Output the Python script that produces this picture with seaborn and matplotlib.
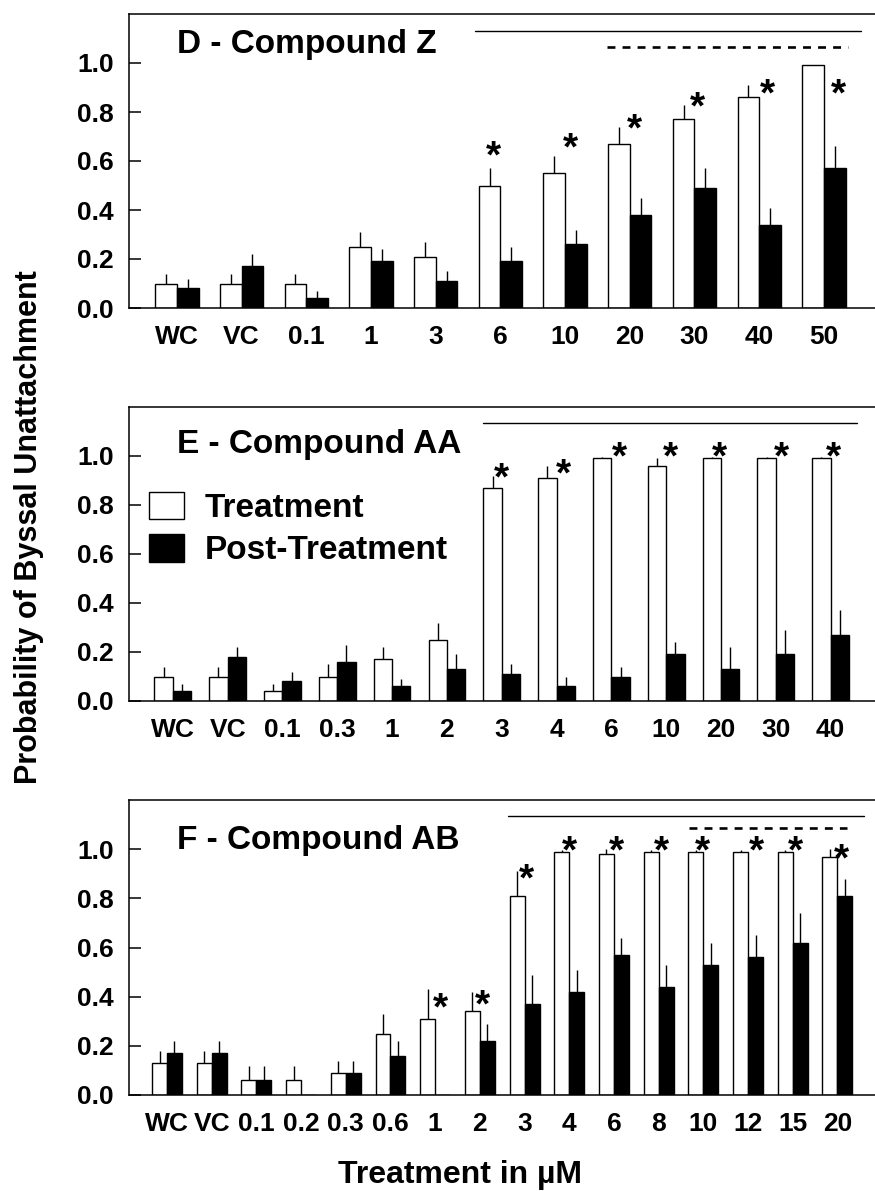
import numpy as np
import pandas as pd
import matplotlib
matplotlib.use("Agg")
import matplotlib.pyplot as plt
import matplotlib.patches as mpatches
import matplotlib.transforms as mtransforms
import seaborn as sns

sns.set_theme(style="ticks")
plt.rcParams["font.family"] = ["Liberation Sans", "DejaVu Sans"]
plt.rcParams["font.weight"] = "bold"
plt.rcParams.update({
    "text.color": "black", "axes.labelcolor": "black",
    "xtick.color": "black", "ytick.color": "black",
})

PHASES = ["Treatment", "Post-Treatment"]
PALETTE = {"Treatment": "white", "Post-Treatment": "black"}

# --- Panel D - Compound Z ---
cats_d = ["WC", "VC", "0.1", "1", "3", "6", "10", "20", "30", "40", "50"]
treat_d = [0.10, 0.10, 0.10, 0.25, 0.21, 0.50, 0.55, 0.67, 0.77, 0.86, 0.99]
treat_err_d = [0.04, 0.04, 0.04, 0.06, 0.06, 0.07, 0.07, 0.07, 0.06, 0.05, 0.0]
post_d = [0.08, 0.17, 0.04, 0.19, 0.11, 0.19, 0.26, 0.38, 0.49, 0.34, 0.57]
post_err_d = [0.04, 0.05, 0.03, 0.05, 0.04, 0.06, 0.06, 0.07, 0.08, 0.07, 0.09]
star_cats_d = ["6", "10", "20", "30", "40", "50"]
star_off_d = [-0.10, 0.08, 0.07, 0.04, 0.13, 0.22]
star_y_d = [0.667, 0.70, 0.776, 0.867, 0.918, 0.918]
lines_d = [("6", -0.40, "50", 0.57, 1.132, "solid"),
           ("20", -0.35, "50", 0.37, 1.064, "dashed")]

# --- Panel E - Compound AA ---
cats_e = ["WC", "VC", "0.1", "0.3", "1", "2", "3", "4", "6", "10", "20", "30", "40"]
treat_e = [0.10, 0.10, 0.04, 0.10, 0.17, 0.25, 0.87, 0.91, 0.99, 0.96, 0.99, 0.99, 0.99]
treat_err_e = [0.04, 0.04, 0.03, 0.05, 0.05, 0.07, 0.05, 0.05, 0.005, 0.03, 0.005, 0.005, 0.005]
post_e = [0.04, 0.18, 0.08, 0.16, 0.06, 0.13, 0.11, 0.06, 0.10, 0.19, 0.13, 0.19, 0.27]
post_err_e = [0.03, 0.04, 0.04, 0.07, 0.03, 0.06, 0.04, 0.04, 0.04, 0.05, 0.09, 0.10, 0.10]
star_cats_e = ["3", "4", "6", "10", "20", "30", "40"]
star_off_e = [0.0, 0.13, 0.15, 0.085, -0.02, 0.10, 0.06]
star_y_e = [0.956, 0.97, 1.04, 1.04, 1.04, 1.04, 1.04]
lines_e = [("3", -0.34, "40", 0.48, 1.136, "solid")]

# --- Panel F - Compound AB ---
cats_f = ["WC", "VC", "0.1", "0.2", "0.3", "0.6", "1", "2",
          "3", "4", "6", "8", "10", "12", "15", "20"]
treat_f = [0.13, 0.13, 0.06, 0.06, 0.09, 0.25, 0.31, 0.34,
           0.81, 0.99, 0.98, 0.99, 0.99, 0.99, 0.99, 0.97]
treat_err_f = [0.05, 0.05, 0.06, 0.06, 0.05, 0.08, 0.12, 0.08,
               0.10, 0.005, 0.02, 0.005, 0.005, 0.005, 0.005, 0.03]
post_f = [0.17, 0.17, 0.06, 0.0, 0.09, 0.16, 0.0, 0.22,
          0.37, 0.42, 0.57, 0.44, 0.53, 0.56, 0.62, 0.81]
post_err_f = [0.05, 0.05, 0.06, 0.0, 0.05, 0.06, 0.0, 0.07,
              0.12, 0.09, 0.07, 0.09, 0.09, 0.09, 0.12, 0.07]
star_cats_f = ["1", "2", "3", "4", "6", "8", "10", "12", "15", "20"]
star_off_f = [0.11, 0.06, 0.04, 0.0, 0.06, 0.06, -0.02, 0.19, 0.06, 0.10]
star_y_f = [0.40, 0.411, 0.923, 1.038, 1.038, 1.038, 1.038, 1.038, 1.038, 1.004]
lines_f = [("3", -0.37, "20", 0.59, 1.133, "solid"),
           ("10", -0.32, "20", 0.21, 1.085, "dashed")]

YTICKS = [0.0, 0.2, 0.4, 0.6, 0.8, 1.0]
STAR_SIZE = 28


def draw_panel(fig, ax, cats, treat, treat_err, post, post_err, title,
               star_cats, star_off, star_y, lines, xlim, title_y):
    n = len(cats)
    df = pd.DataFrame({
        "dose": cats * 2,
        "phase": [PHASES[0]] * n + [PHASES[1]] * n,
        "prob": treat + post,
    })
    sns.barplot(data=df, x="dose", y="prob", hue="phase", order=cats,
                hue_order=PHASES, palette=PALETTE, width=0.67, saturation=1,
                edgecolor="black", linewidth=1.0, errorbar=None,
                legend=False, ax=ax)

    # upper-only error bars, no caps
    for bar in ax.patches:
        cx = bar.get_x() + bar.get_width() / 2
        i = int(round(cx))
        e = treat_err[i] if cx < i else post_err[i]
        top = bar.get_height()
        if e > 0:
            ax.vlines(cx, top, top + e, color="black", linewidth=1.0)

    star_tr = mtransforms.offset_copy(ax.transData, fig=fig,
                                      y=-0.58 * STAR_SIZE, units="points")
    for c, off, y in zip(star_cats, star_off, star_y):
        ax.text(cats.index(c) + off, y, "*", ha="center", va="baseline",
                fontsize=STAR_SIZE, fontweight="bold", transform=star_tr)

    for c0, o0, c1, o1, y, ls in lines:
        x0 = cats.index(c0) + o0
        x1 = cats.index(c1) + o1
        if ls == "solid":
            ax.plot([x0, x1], [y, y], color="black", linewidth=1.0)
        else:
            ax.plot([x0, x1], [y, y], color="black", linewidth=1.9,
                    linestyle=(0, (3.0, 2.7)))

    ax.set_xlim(*xlim)
    ax.set_ylim(0, 1.2)
    ax.set_yticks(YTICKS)
    ax.set_yticklabels([f"{t:.1f}" for t in YTICKS])
    ax.set_xlabel("")
    ax.set_ylabel("")
    ax.tick_params(axis="x", length=0, pad=12, labelsize=19)
    ax.tick_params(axis="y", direction="in", length=8.6, width=1.1,
                   pad=11, labelsize=19)
    for lab in ax.get_xticklabels() + ax.get_yticklabels():
        lab.set_fontweight("bold")
    ax.spines["right"].set_visible(False)
    for s in ["left", "top", "bottom"]:
        ax.spines[s].set_linewidth(1.1)
        ax.spines[s].set_color("black")
    ax.text(0.064, title_y, title, transform=ax.transAxes, ha="left",
            va="baseline", fontsize=24, fontweight="bold")


fig = plt.figure(figsize=(8.75, 11.91), dpi=100)
W, H = 875, 1191
left = 129 / W


def make_axes(top_px, bottom_px):
    return fig.add_axes([left, 1 - bottom_px / H, 1 - left, (bottom_px - top_px) / H])


ax_d = make_axes(14, 308)
ax_e = make_axes(407, 701)
ax_f = make_axes(800, 1095)

draw_panel(fig, ax_d, cats_d, treat_d, treat_err_d, post_d, post_err_d,
           "D - Compound Z", star_cats_d, star_off_d, star_y_d, lines_d,
           (-0.74, 10.79), 0.866)
draw_panel(fig, ax_e, cats_e, treat_e, treat_err_e, post_e, post_err_e,
           "E - Compound AA", star_cats_e, star_off_e, star_y_e, lines_e,
           (-0.80, 12.81), 0.844)
draw_panel(fig, ax_f, cats_f, treat_f, treat_err_f, post_f, post_err_f,
           "F - Compound AB", star_cats_f, star_off_f, star_y_f, lines_f,
           (-0.85, 15.84), 0.834)

handles = [mpatches.Patch(facecolor=PALETTE[p], edgecolor="black", linewidth=1.0)
           for p in PHASES]
ax_e.legend(handles, PHASES, loc="upper left", bbox_to_anchor=(0.027, 0.712),
            frameon=False, borderaxespad=0, borderpad=0, handlelength=1.05,
            handleheight=0.9, handletextpad=0.62, labelspacing=0.3,
            prop={"size": 24, "weight": "bold"})

fig.text(29 / W, 1 - 527 / H, "Probability of Byssal Unattachment",
         rotation=90, ha="center", va="center", fontsize=22, fontweight="bold")
fig.text(460 / W, 1 - 1183 / H, "Treatment in µM", ha="center",
         va="baseline", fontsize=23, fontweight="bold")

fig.savefig("out.png", dpi=100)
